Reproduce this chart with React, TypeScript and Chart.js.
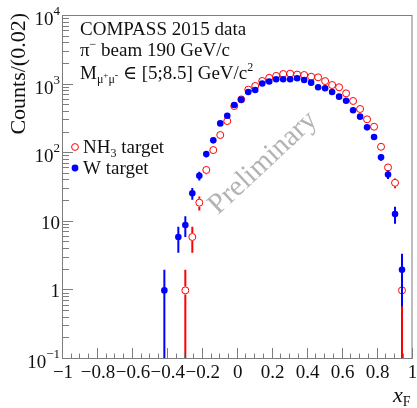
import React, { useEffect, useRef } from 'react';
import { Chart, registerables } from 'chart.js';

Chart.register(...registerables);

// x_F bin centres (bin width 0.04 as drawn)
const xF = [
  -0.42, -0.38, -0.34, -0.30, -0.26, -0.22, -0.18, -0.14, -0.10, -0.06, -0.02,
  0.02, 0.06, 0.10, 0.14, 0.18, 0.22, 0.26, 0.30, 0.34, 0.38, 0.42, 0.46, 0.50,
  0.54, 0.58, 0.62, 0.66, 0.70, 0.74, 0.78, 0.82, 0.86, 0.90, 0.94,
];

// W target counts (blue, filled)
const wTarget: (number | null)[] = [
  1, null, 6, 9, 26, 47, 97, 154, 272, 352, 505,
  603, 780, 834, 1040, 1110, 1194, 1194, 1194, 1236, 1167, 1067, 914, 883,
  780, 667, 583, 422, 341, 238, 172, 87, 49, 13, 2,
];

// NH3 target counts (red, open)
const nh3Target: (number | null)[] = [
  null, null, null, 1, 6, 19, 57, 111, 184, 294, 487,
  608, 845, 955, 1130, 1255, 1340, 1427, 1445, 1400, 1380, 1303, 1277, 1125,
  986, 914, 746, 577, 441, 312, 243, 124, 62, 37, 1,
];

const xTickValues = [-1, -0.8, -0.6, -0.4, -0.2, 0, 0.2, 0.4, 0.6, 0.8, 1];
const xTickLabels = ['\u22121', '\u22120.8', '\u22120.6', '\u22120.4', '\u22120.2', '0', '0.2', '0.4', '0.6', '0.8', '1'];
const yDecadeExponents = [-1, 0, 1, 2, 3, 4];

const SERIF = '"Liberation Serif", "DejaVu Serif", serif';
const FRAME = '#7d7d7d';
const TEXT = '#111111';

type Part = { t: string; size: number; dy: number; italic?: boolean };

function partsWidth(ctx: CanvasRenderingContext2D, parts: Part[]) {
  let w = 0;
  for (const p of parts) {
    ctx.font = `${p.italic ? 'italic ' : ''}${p.size}px ${SERIF}`;
    w += ctx.measureText(p.t).width;
  }
  return w;
}

function drawParts(ctx: CanvasRenderingContext2D, x: number, y: number, parts: Part[]) {
  let cx = x;
  ctx.textBaseline = 'alphabetic';
  ctx.textAlign = 'left';
  for (const p of parts) {
    ctx.font = `${p.italic ? 'italic ' : ''}${p.size}px ${SERIF}`;
    ctx.fillText(p.t, cx, y + p.dy);
    cx += ctx.measureText(p.t).width;
  }
}

const errorBarPlugin = {
  id: 'errorBars',
  beforeDatasetDraw(chart: any, args: any) {
    const ctx: CanvasRenderingContext2D = chart.ctx;
    const ds = chart.data.datasets[args.index];
    const meta = args.meta;
    const yScale = chart.scales.y;
    const area = chart.chartArea;
    const open = ds.openMarker;
    const r = ds.pointRadius + 0.5;
    ctx.save();
    ctx.beginPath();
    ctx.rect(area.left, area.top, area.right - area.left, area.bottom - area.top);
    ctx.clip();
    ctx.strokeStyle = ds.borderColor;
    ctx.lineWidth = 2;
    meta.data.forEach((el: any, i: number) => {
      const v = ds.data[i].y;
      const e = Math.sqrt(v);
      const yTop = yScale.getPixelForValue(v + e);
      const lo = v - e;
      const yBot = lo > 0 ? yScale.getPixelForValue(lo) : area.bottom + 2;
      ctx.beginPath();
      if (open) {
        if (el.y - r > yTop) { ctx.moveTo(el.x, yTop); ctx.lineTo(el.x, el.y - r); }
        if (el.y + r < yBot) { ctx.moveTo(el.x, el.y + r); ctx.lineTo(el.x, yBot); }
      } else {
        ctx.moveTo(el.x, yTop);
        ctx.lineTo(el.x, yBot);
      }
      ctx.stroke();
    });
    ctx.restore();
  },
};

const decorPlugin = {
  id: 'decor',
  beforeDatasetsDraw(chart: any) {
    const ctx: CanvasRenderingContext2D = chart.ctx;
    ctx.save();
    ctx.translate(263, 163);
    ctx.rotate(-43 * Math.PI / 180);
    ctx.font = `29px ${SERIF}`;
    ctx.fillStyle = '#b3b3b3';
    ctx.textAlign = 'center';
    ctx.textBaseline = 'middle';
    ctx.fillText('Preliminary', 0, 0);
    ctx.restore();
  },
  afterDraw(chart: any) {
    const ctx: CanvasRenderingContext2D = chart.ctx;
    const a = chart.chartArea;
    const xs = chart.scales.x;
    const ys = chart.scales.y;
    ctx.save();

    // frame
    ctx.strokeStyle = FRAME;
    ctx.lineWidth = 1;
    ctx.strokeRect(a.left - 0.5, a.top - 0.5, a.right - a.left, a.bottom - a.top);

    // x ticks
    ctx.beginPath();
    for (let k = -20; k <= 20; k++) {
      const v = k * 0.05;
      const px = Math.round(xs.getPixelForValue(v)) - 0.5;
      const len = k % 4 === 0 ? 11 : 5.5;
      ctx.moveTo(px, a.bottom);
      ctx.lineTo(px, a.bottom - len);
    }
    // y ticks
    for (let d = -1; d <= 3; d++) {
      for (let m = 1; m <= 9; m++) {
        const v = m * Math.pow(10, d);
        const py = Math.round(ys.getPixelForValue(v)) - 0.5;
        const len = m === 1 ? 10 : 6;
        ctx.moveTo(a.left, py);
        ctx.lineTo(a.left + len, py);
      }
    }
    ctx.stroke();

    ctx.fillStyle = TEXT;
    // x tick labels
    ctx.font = `19px ${SERIF}`;
    ctx.textAlign = 'center';
    ctx.textBaseline = 'alphabetic';
    xTickValues.forEach((v, i) => {
      ctx.fillText(xTickLabels[i], xs.getPixelForValue(v), 378);
    });

    // y tick labels
    yDecadeExponents.forEach((e) => {
      const py = ys.getPixelForValue(Math.pow(10, e));
      let parts: Part[];
      if (e === 0) parts = [{ t: '1', size: 19, dy: 7 }];
      else if (e === 1) parts = [{ t: '10', size: 19, dy: 7 }];
      else parts = [
        { t: '10', size: 19, dy: 9 },
        { t: e < 0 ? '\u22121' : String(e), size: 13, dy: -1 },
      ];
      const w = partsWidth(ctx, parts);
      drawParts(ctx, 60 - w, py, parts);
    });

    // y title
    ctx.save();
    ctx.translate(25, 13);
    ctx.rotate(-Math.PI / 2);
    ctx.font = `22px ${SERIF}`;
    ctx.textAlign = 'right';
    ctx.textBaseline = 'alphabetic';
    ctx.fillText('Counts/(0.02)', 0, 0);
    ctx.restore();

    // x title
    drawParts(ctx, 393, 402, [
      { t: 'x', size: 22, dy: 0, italic: true },
      { t: 'F', size: 14, dy: 4 },
    ]);

    // info text
    drawParts(ctx, 80, 35, [{ t: 'COMPASS 2015 data', size: 19, dy: 0 }]);
    drawParts(ctx, 80, 56, [
      { t: '\u03c0', size: 19, dy: 0 },
      { t: '\u2212', size: 12, dy: -8 },
      { t: ' beam 190 GeV/c', size: 19, dy: 0 },
    ]);
    drawParts(ctx, 80, 79, [
      { t: 'M', size: 19, dy: 0 },
      { t: '\u03bc', size: 12, dy: 4 },
      { t: '+', size: 9, dy: -1 },
      { t: '\u03bc', size: 12, dy: 4 },
      { t: '-', size: 10, dy: -1 },
      { t: ' \u2208 [5;8.5] GeV/c', size: 19, dy: 0 },
      { t: '2', size: 12, dy: -8 },
    ]);

    // legend
    ctx.beginPath();
    ctx.strokeStyle = '#ff0000';
    ctx.lineWidth = 1;
    ctx.arc(75, 147, 3.4, 0, Math.PI * 2);
    ctx.stroke();
    ctx.beginPath();
    ctx.fillStyle = '#0000ff';
    ctx.arc(75, 168, 3.4, 0, Math.PI * 2);
    ctx.fill();
    ctx.fillStyle = TEXT;
    drawParts(ctx, 83, 153, [
      { t: 'NH', size: 19, dy: 0 },
      { t: '3', size: 12, dy: 4 },
      { t: ' target', size: 19, dy: 0 },
    ]);
    drawParts(ctx, 83, 174, [{ t: 'W target', size: 19, dy: 0 }]);

    ctx.restore();
  },
};

export default function App() {
  const canvasRef = useRef<HTMLCanvasElement | null>(null);

  useEffect(() => {
    const canvas = canvasRef.current;
    if (!canvas) return;
    const toPoints = (vals: (number | null)[]) =>
      xF.map((x, i) => ({ x, y: vals[i] })).filter((p) => p.y !== null && (p.y as number) > 0);

    const chart = new Chart(canvas, {
      type: 'scatter',
      data: {
        datasets: [
          {
            label: 'W target',
            data: toPoints(wTarget) as any,
            backgroundColor: '#0000ff',
            borderColor: '#0000ff',
            borderWidth: 0,
            pointRadius: 3.3,
            pointHoverRadius: 3.3,
            order: 0,
            openMarker: false,
          } as any,
          {
            label: 'NH3 target',
            data: toPoints(nh3Target) as any,
            backgroundColor: 'rgba(0,0,0,0)',
            borderColor: '#ff0000',
            borderWidth: 1,
            pointRadius: 3.5,
            pointHoverRadius: 3.5,
            order: 1,
            openMarker: true,
          } as any,
        ],
      },
      options: {
        responsive: false,
        animation: false,
        events: [],
        layout: { padding: { left: 63, right: 4, top: 16, bottom: 49 } },
        scales: {
          x: { type: 'linear', min: -1, max: 1, display: false },
          y: { type: 'logarithmic', min: 0.1, max: 10000, display: false },
        },
        plugins: {
          legend: { display: false },
          tooltip: { enabled: false },
        },
      },
      plugins: [errorBarPlugin, decorPlugin],
    });
    return () => chart.destroy();
  }, []);

  return (
    <div style={{ position: 'fixed', left: 0, top: 0, width: 417, height: 408, background: '#fff' }}>
      <canvas ref={canvasRef} width={417} height={408} style={{ width: 417, height: 408, display: 'block' }} />
    </div>
  );
}
